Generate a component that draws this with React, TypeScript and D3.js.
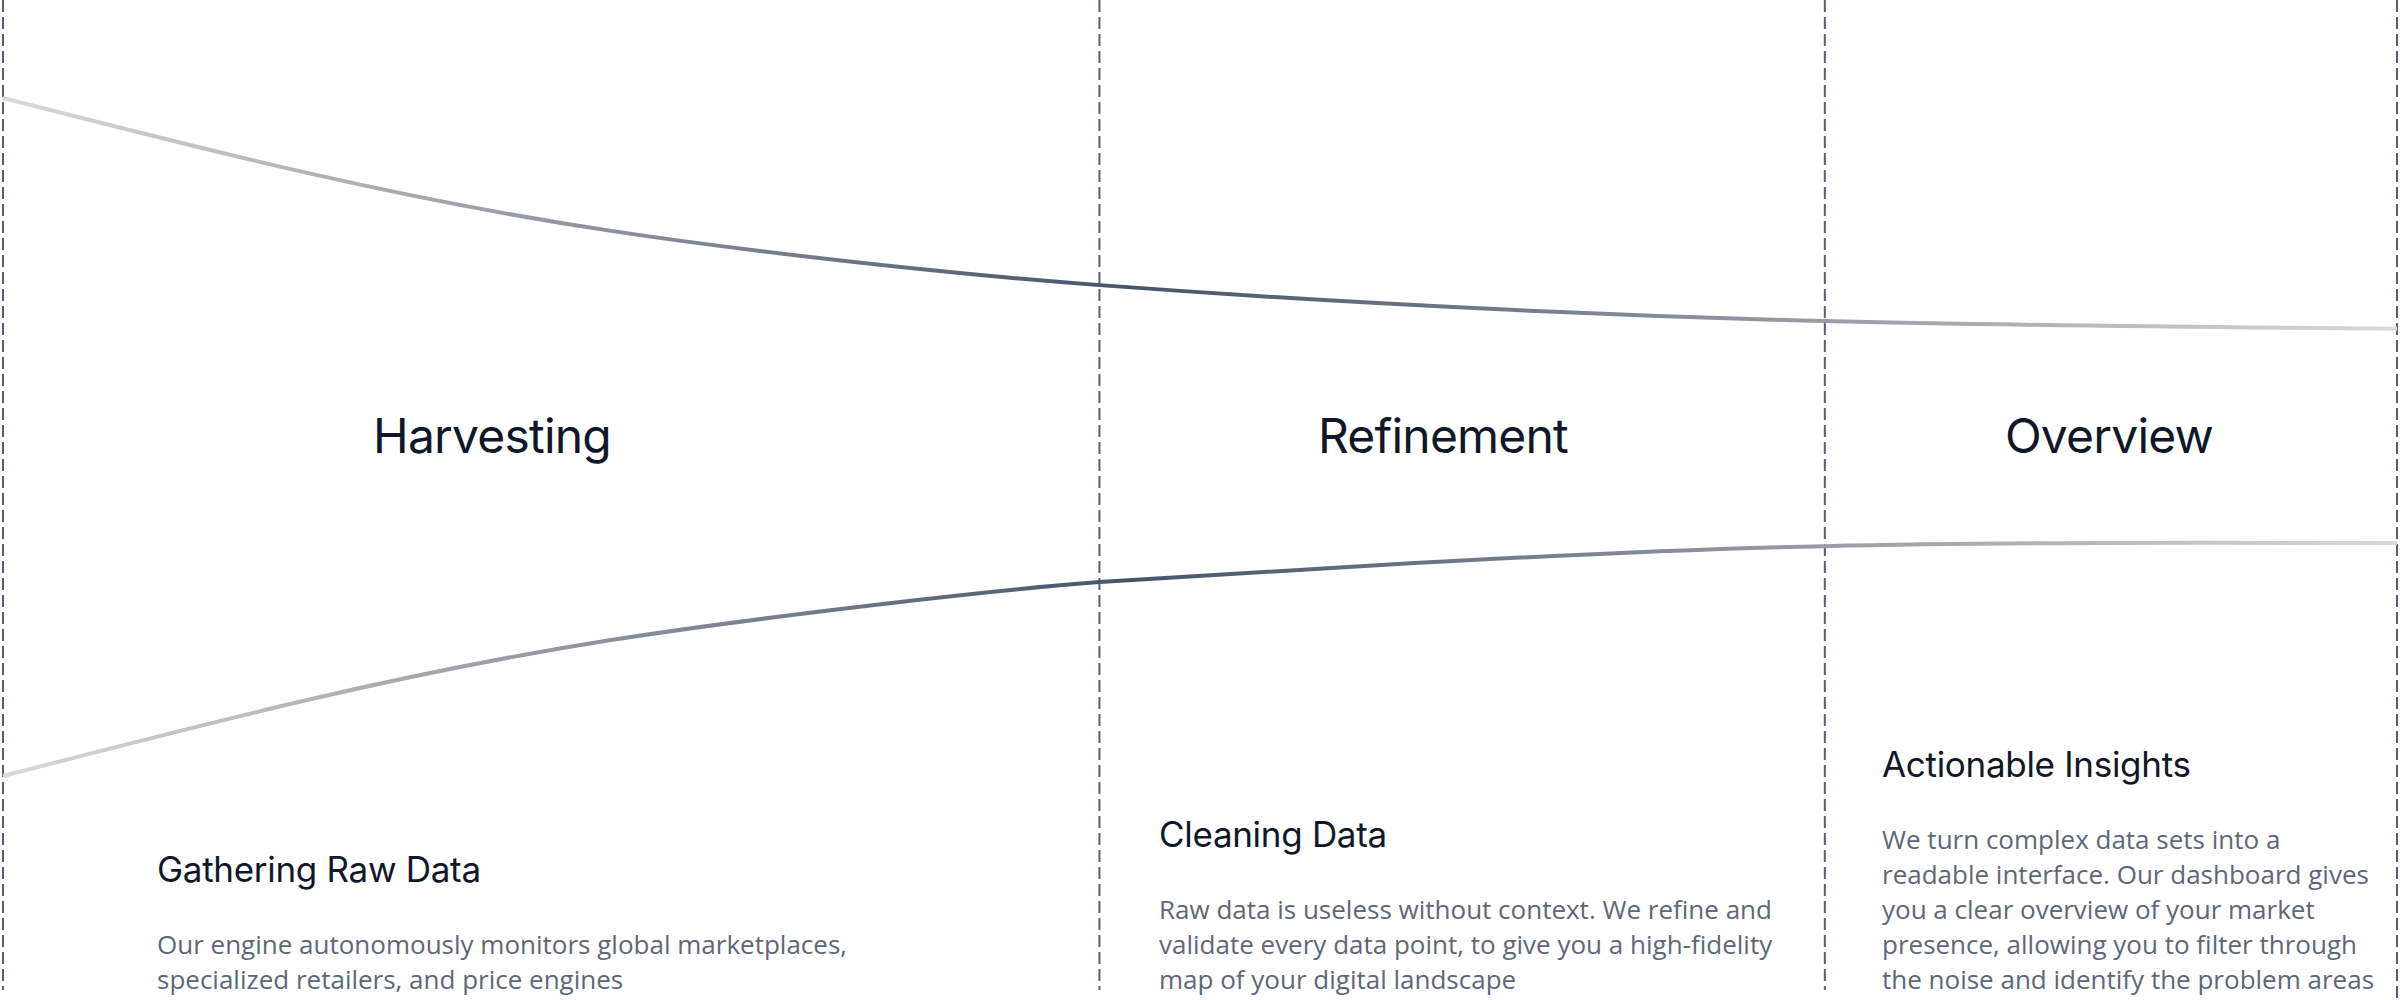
import * as d3 from "d3";

const WIDTH = 2400;
const HEIGHT = 1000;

// stage boundaries, in percent of the run from the first to the last divider
const stageNames = ["Harvesting", "Refinement", "Overview"];
const stageBounds = [0, 45.8, 76.1, 100];

// funnel edges: position (%) and spread (-100..100)
const edgeX = [0, 12.7, 25.4, 38.2, 45.8, 57.4, 76.1, 100];
const upperV = [100, 77.9, 60.8, 49.6, 44.8, 39.5, 34.2, 31.9];
const lowerV = [-100, -77.6, -59.9, -48.1, -42.8, -37.8, -32.2, -31.3];

const stepTitles = ["Gathering Raw Data", "Cleaning Data", "Actionable Insights"];
const stepBodies = [
  [
    "Our engine autonomously monitors global marketplaces,",
    "specialized retailers, and price engines",
  ],
  [
    "Raw data is useless without context. We refine and",
    "validate every data point, to give you a high-fidelity",
    "map of your digital landscape",
  ],
  [
    "We turn complex data sets into a",
    "readable interface. Our dashboard gives",
    "you a clear overview of your market",
    "presence, allowing you to filter through",
    "the noise and identify the problem areas",
  ],
];

// layout
const TITLE_X = [492, 1443, 2109];
const TITLE_Y = 453;
const TEXT_X = [157, 1159, 1882];
const LAST_BASELINE = 989;
const LINE_H = 35;
const TITLE_GAP = 72;

export default function App() {
  const xScale = d3.scaleLinear().domain([0, 100]).range([3, 2397]);
  const yScale = d3.scaleLinear().domain([-100, 100]).range([776, 98]);

  const line = d3
    .line<[number, number]>()
    .x((d) => xScale(d[0]))
    .y((d) => yScale(d[1]))
    .curve(d3.curveNatural);

  const upper = line(edgeX.map((x, i) => [x, upperV[i]] as [number, number]));
  const lower = line(edgeX.map((x, i) => [x, lowerV[i]] as [number, number]));

  return (
    <div style={{ position: "absolute", left: 0, top: 0 }}>
      <svg width={WIDTH} height={HEIGHT} style={{ display: "block", background: "#fff" }}>
        <defs>
          <linearGradient
            id="funnelStroke"
            gradientUnits="userSpaceOnUse"
            x1={xScale(0)}
            x2={xScale(100)}
            y1={0}
            y2={0}
          >
            <stop offset="0" stopColor="#d9d9d9" />
            <stop offset="0.47" stopColor="#475569" />
            <stop offset="1" stopColor="#d9d9d9" />
          </linearGradient>
        </defs>

        {/* stage dividers */}
        {stageBounds.map((b, i) => (
          <line
            key={i}
            x1={xScale(b)}
            x2={xScale(b)}
            y1={0}
            y2={i === stageBounds.length - 1 ? HEIGHT : 990}
            stroke="#566174"
            strokeWidth={2}
            strokeDasharray="12 5"
          />
        ))}

        <path d={upper ?? ""} fill="none" stroke="url(#funnelStroke)" strokeWidth={4} />
        <path d={lower ?? ""} fill="none" stroke="url(#funnelStroke)" strokeWidth={4} />

        {stageNames.map((name, i) => (
          <text
            key={name}
            x={TITLE_X[i]}
            y={TITLE_Y}
            textAnchor="middle"
            fontFamily="Inter, sans-serif"
            fontSize={48}
            letterSpacing={-0.8}
            fill="#0f1729"
          >
            {name}
          </text>
        ))}

        {stepTitles.map((title, i) => {
          const body = stepBodies[i];
          const firstBase = LAST_BASELINE - (body.length - 1) * LINE_H;
          return (
            <g key={title}>
              <text
                x={TEXT_X[i]}
                y={firstBase - TITLE_GAP}
                fontFamily="Inter, sans-serif"
                fontSize={35}
                letterSpacing={-0.3}
                fill="#0f1729"
              >
                {title}
              </text>
              {body.map((ln, j) => (
                <text
                  key={j}
                  x={TEXT_X[i]}
                  y={firstBase + j * LINE_H}
                  fontFamily="'Open Sans', sans-serif"
                  fontSize={26}
                  fill="#5d6779"
                >
                  {ln}
                </text>
              ))}
            </g>
          );
        })}
      </svg>
    </div>
  );
}
